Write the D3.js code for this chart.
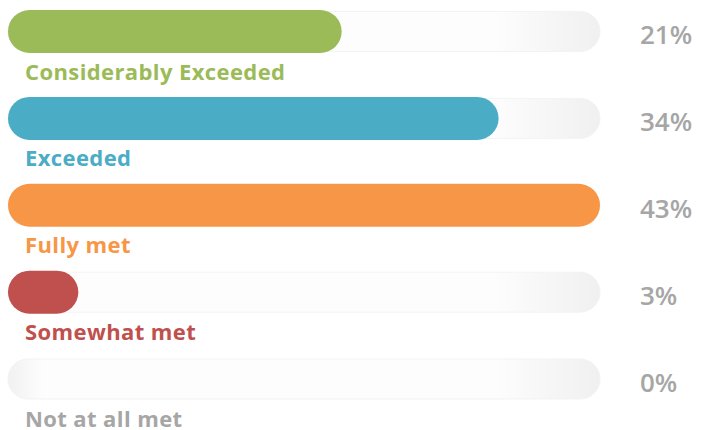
<!DOCTYPE html>
<html>
<head>
<meta charset="utf-8">
<script src="https://cdn.jsdelivr.net/npm/d3@7"></script>
<style>
  body { margin: 0; background: #fff; }
</style>
</head>
<body>
<div id="chart"></div>
<script>
// chart values
const categories = ["Considerably Exceeded", "Exceeded", "Fully met", "Somewhat met", "Not at all met"];
const percents = [21, 34, 43, 3, 0];
const colors = ["#9bbb59", "#4bacc6", "#f79646", "#c0504d", "#a6a6a6"];

const width = 704, height = 430;
const trackLeft = 8, trackRight = 600;
const barH = 43, trackH = 40;

const svg = d3.select("#chart")
  .append("svg")
  .attr("width", width)
  .attr("height", height);

// track gradient
const defs = svg.append("defs");
const grad = defs.append("linearGradient")
  .attr("id", "trackGrad")
  .attr("x1", "0%").attr("x2", "100%").attr("y1", "0%").attr("y2", "0%");
grad.append("stop").attr("offset", "0%").attr("stop-color", "#f1f1f1");
grad.append("stop").attr("offset", "6%").attr("stop-color", "#fdfdfd");
grad.append("stop").attr("offset", "82%").attr("stop-color", "#fdfdfd");
grad.append("stop").attr("offset", "100%").attr("stop-color", "#f0f0f0");

// row positions
const y = d3.scalePoint()
  .domain(categories)
  .range([31.5, 379]);

// bar lengths (infographic is not quite linear)
const x = d3.scalePow()
  .exponent(0.8)
  .domain([0, d3.max(percents)])
  .range([0, trackRight - trackLeft]);

const rows = svg.selectAll(".row")
  .data(categories)
  .enter()
  .append("g")
  .attr("class", "row")
  .attr("transform", d => "translate(0," + y(d) + ")");

rows.append("rect")
  .attr("x", trackLeft)
  .attr("y", -trackH / 2)
  .attr("width", trackRight - trackLeft)
  .attr("height", trackH)
  .attr("rx", trackH / 2)
  .attr("fill", "url(#trackGrad)")
  .attr("stroke", "#f3f3f3")
  .attr("stroke-width", 1);

rows.filter((d, i) => percents[i] > 0)
  .append("rect")
  .attr("x", trackLeft)
  .attr("y", -barH / 2)
  .attr("width", (d, i) => Math.max(barH, x(percents[i])))
  .attr("height", barH)
  .attr("rx", barH / 2)
  .attr("fill", (d, i) => colors[i]);

rows.append("text")
  .attr("x", 25)
  .attr("y", 48)
  .attr("font-family", "'Open Sans', sans-serif")
  .attr("font-weight", "bold")
  .attr("font-size", 22)
  .attr("letter-spacing", 0.4)
  .attr("fill", (d, i) => colors[i])
  .text(d => d);

rows.append("text")
  .attr("x", 640)
  .attr("y", 12.5)
  .attr("font-family", "'Open Sans', sans-serif")
  .attr("font-weight", 600)
  .attr("font-size", 26)
  .attr("fill", "#a6a6a6")
  .text((d, i) => percents[i] + "%");
</script>
</body>
</html>
